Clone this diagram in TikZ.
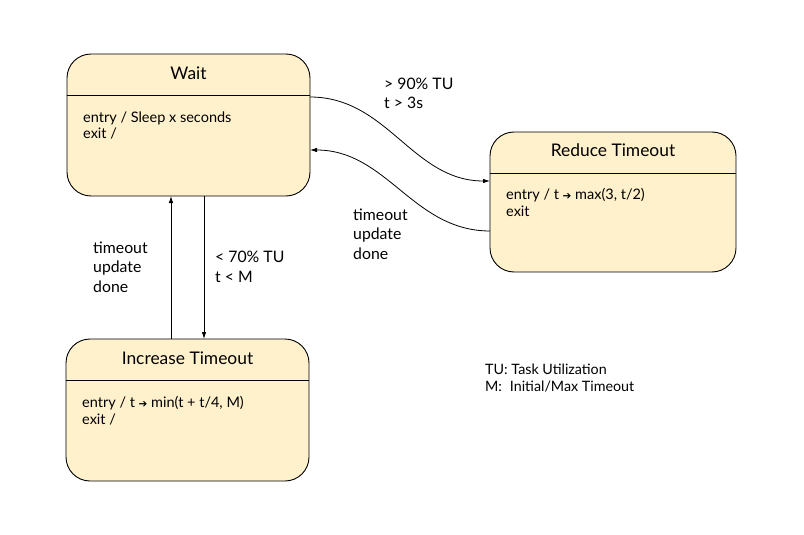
\documentclass[tikz,border=0pt]{standalone}
\usepackage{fontspec}
\setmainfont{Lato}
\newfontfamily\symfont{DejaVu Sans}
\usetikzlibrary{arrows.meta}
\definecolor{statefill}{HTML}{FFF1CC}
\newcommand{\tarrow}{{\symfont\fontsize{10.5}{10.5}\selectfont ➔}}
\tikzset{
 statebox/.style={draw=black, fill=statefill, rounded corners=24pt, line width=0.9pt, inner sep=0pt},
 titletext/.style={font=\fontsize{17.4}{20}\selectfont, anchor=base, inner sep=0pt},
 bodytext/.style={font=\fontsize{14.5}{17}\selectfont, anchor=base west, align=left, inner sep=0pt},
 lbltext/.style={font=\fontsize{15.8}{19.5}\selectfont, anchor=base west, align=left, inner sep=0pt},
 legendtext/.style={font=\fontsize{14.3}{17}\selectfont, anchor=base west, align=left, inner sep=0pt},
 sepline/.style={line width=0.9pt},
 trans/.style={-{Latex[length=7pt,width=4.5pt]}, line width=0.8pt}
}
\begin{document}
\begin{tikzpicture}[x=1pt,y=-1pt]
\useasboundingbox (0,0) rectangle (804,535);
% states
\node[statebox, minimum width=243pt, minimum height=142pt] (wait) at (188.5,125) {};
\node[statebox, minimum width=246pt, minimum height=140pt] (reduce) at (613,202) {};
\node[statebox, minimum width=243pt, minimum height=142pt] (increase) at (187.5,410) {};
% header lines
\draw[sepline] (wait.west |- 0,95) -- (wait.east |- 0,95);
\draw[sepline] (reduce.west |- 0,173) -- (reduce.east |- 0,173);
\draw[sepline] (increase.west |- 0,380) -- (increase.east |- 0,380);
% titles
\node[titletext] (waitT) at (188.5,80) {Wait};
\node[titletext] (reduceT) at (613,157) {Reduce Timeout};
\node[titletext] (increaseT) at (187.5,364) {Increase Timeout};
% bodies (anchor = baseline of last line)
\node[bodytext] (waitB) at (83,139) {entry / Sleep x seconds\\exit /};
\node[bodytext] (reduceB) at (506,216) {entry / t \tarrow\ max(3, t/2)\\exit};
\node[bodytext] (increaseB) at (82,424) {entry / t \tarrow\ min(t + t/4, M)\\exit /};
% transition end points
\coordinate (w1) at (310,97);
\coordinate (r1) at (490,181);
\coordinate (r2) at (490,231);
\coordinate (w2) at (310,150);
\coordinate (w3) at (171,196);
\coordinate (i1) at (171,339);
\coordinate (w4) at (204,196);
\coordinate (i2) at (204,339);
% transitions
\draw[trans] (w1) to[out=0,in=180] (r1);
\draw[trans] (r2) to[out=180,in=0] (w2);
\draw[trans] (i1) -- (w3);
\draw[trans] (w4) -- (i2);
% labels
\node[lbltext] (l1) at (384,109) {> 90\% TU\\t > 3s};
\node[lbltext] (l2) at (353,259) {timeout\\update\\done};
\node[lbltext] (l3) at (93,292) {timeout\\update\\done};
\node[lbltext] (l4) at (215,282) {< 70\% TU\\t < M};
% legend
\node[legendtext] (leg) at (485,391) {TU: Task Utilization\\M:\hspace{0.55em}Initial/Max Timeout};
\end{tikzpicture}
\end{document}
